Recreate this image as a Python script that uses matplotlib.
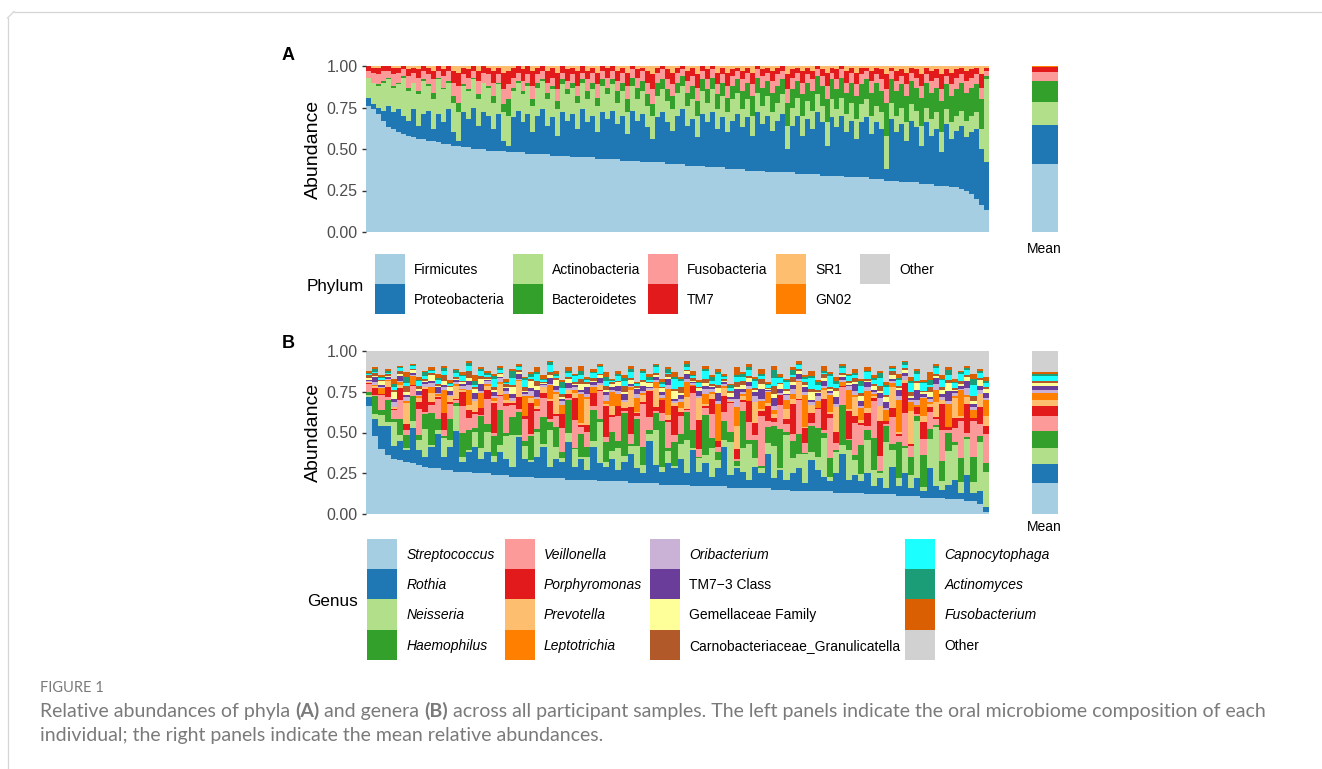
import numpy as np
import matplotlib
matplotlib.use('Agg')
import matplotlib.pyplot as plt
from matplotlib.patches import Rectangle

plt.rcParams['font.family'] = ['Liberation Sans', 'DejaVu Sans']

W, H = 1322, 769

# --- panel A: upper edge of each phylum in the stack, in percent, one value per sample ---
firmicutes_top = [
    76, 74, 71, 67, 63, 62, 60, 59, 58, 57, 56, 56, 55, 55, 54, 53, 53, 52, 52, 51, 51, 50, 50, 50, 49,
    49, 49, 49, 48, 48, 48, 48, 47, 47, 47, 47, 47, 46, 46, 46, 46, 45, 45, 45, 45, 45, 44, 44, 44, 44,
    44, 43, 43, 43, 43, 42, 42, 42, 42, 42, 41, 41, 41, 41, 40, 40, 40, 40, 39, 39, 39, 39, 38, 38, 38,
    38, 37, 37, 37, 37, 36, 36, 36, 36, 36, 36, 35, 35, 35, 35, 35, 34, 34, 34, 34, 34, 33, 33, 33, 33,
    33, 32, 32, 32, 31, 31, 31, 30, 30, 30, 30, 29, 29, 29, 28, 28, 28, 27, 27, 26, 25, 23, 20, 16, 13]
proteobacteria_top = [
    81, 77, 75, 73, 76, 72, 74, 70, 67, 74, 64, 71, 73, 62, 71, 66, 74, 60, 55, 72, 68, 75, 64, 72, 70,
    62, 71, 55, 52, 69, 73, 66, 71, 60, 70, 74, 64, 69, 58, 72, 67, 71, 62, 74, 66, 70, 60, 72, 68, 73,
    65, 70, 59, 73, 67, 71, 63, 56, 69, 72, 66, 61, 70, 74, 64, 68, 57, 71, 66, 72, 62, 69, 60, 67, 71,
    63, 69, 58, 72, 65, 70, 61, 67, 71, 50, 64, 70, 58, 68, 62, 72, 66, 52, 69, 63, 70, 60, 67, 56, 66,
    69, 59, 66, 62, 38, 68, 60, 65, 55, 67, 63, 52, 66, 58, 62, 48, 65, 56, 61, 64, 57, 60, 62, 50, 42]
actinobacteria_top = [
    93, 90, 88, 90, 92, 87, 89, 93, 85, 90, 83, 91, 88, 80, 92, 86, 90, 78, 72, 88, 85, 92, 80, 90, 87,
    78, 89, 72, 70, 85, 90, 83, 88, 76, 87, 91, 80, 86, 74, 89, 83, 87, 78, 90, 80, 86, 76, 88, 83, 89,
    78, 85, 72, 88, 80, 85, 76, 70, 82, 86, 79, 74, 84, 88, 76, 80, 70, 85, 78, 86, 74, 82, 72, 80, 84,
    74, 80, 70, 84, 76, 82, 72, 78, 83, 64, 75, 81, 70, 79, 73, 83, 76, 66, 80, 74, 81, 71, 78, 68, 77,
    80, 70, 76, 72, 58, 78, 70, 75, 66, 77, 73, 64, 75, 68, 72, 60, 74, 66, 70, 73, 67, 70, 72, 62, 92]
bacteroidetes_top = [
    92, 90, 89, 91, 93, 88, 90, 94, 87, 90, 85, 92, 89, 84, 93, 87, 91, 82, 78, 89, 86, 93, 83, 90, 88,
    82, 90, 77, 80, 87, 91, 85, 90, 80, 90, 92, 84, 88, 79, 92, 86, 90, 82, 92, 85, 90, 81, 92, 87, 92,
    85, 90, 80, 93, 87, 91, 83, 77, 90, 92, 86, 82, 90, 94, 84, 88, 79, 92, 86, 93, 83, 90, 81, 88, 92,
    85, 90, 82, 93, 87, 91, 84, 88, 92, 78, 86, 91, 83, 90, 85, 94, 88, 80, 92, 86, 93, 84, 90, 82, 89,
    92, 84, 90, 85, 78, 92, 85, 89, 82, 91, 87, 81, 90, 84, 87, 79, 89, 82, 86, 90, 84, 87, 89, 80, 94]
fusobacteria_top = [
    97, 96, 95, 97, 97, 95, 96, 98, 94, 96, 93, 97, 95, 92, 97, 94, 97, 90, 88, 95, 93, 97, 91, 96, 95,
    90, 95, 86, 89, 93, 96, 91, 95, 88, 95, 97, 90, 93, 86, 96, 91, 95, 88, 96, 92, 96, 89, 97, 93, 97,
    91, 96, 88, 98, 93, 97, 90, 86, 96, 98, 92, 89, 96, 98, 91, 94, 87, 97, 92, 98, 89, 95, 88, 94, 97,
    92, 96, 89, 98, 94, 96, 91, 95, 97, 86, 93, 96, 90, 95, 92, 98, 94, 88, 96, 92, 98, 90, 96, 89, 95,
    97, 91, 95, 92, 86, 97, 91, 94, 89, 96, 93, 88, 95, 91, 93, 86, 94, 89, 93, 95, 91, 93, 95, 87, 97]
tm7_top = [
    100, 99, 99, 100, 100, 99, 99, 100, 98, 99, 98, 100, 99, 97, 100, 98, 100, 97, 96, 99, 98, 100, 97, 100, 99,
    97, 99, 96, 97, 99, 100, 98, 100, 97, 99, 100, 97, 99, 96, 100, 98, 99, 97, 100, 97, 99, 96, 100, 99, 100,
    97, 99, 96, 100, 98, 99, 97, 95, 99, 100, 98, 96, 99, 100, 97, 99, 95, 100, 98, 100, 96, 99, 96, 98, 99,
    97, 99, 96, 100, 98, 99, 97, 99, 100, 95, 98, 99, 97, 99, 97, 100, 98, 96, 99, 98, 100, 97, 99, 96, 99,
    99, 97, 99, 98, 95, 99, 97, 98, 96, 99, 98, 95, 99, 97, 98, 95, 98, 96, 98, 99, 97, 98, 99, 95, 99]

phylum_names = ['Firmicutes', 'Proteobacteria', 'Actinobacteria', 'Bacteroidetes', 'Fusobacteria', 'TM7', 'SR1', 'GN02', 'Other']
phylum_colors = ['#A6CEE3', '#1F78B4', '#B2DF8A', '#33A02C', '#FB9A99', '#E31A1C', '#FDBF6F', '#FF7F00', '#D1D1D1']
phylum_mean = [41.1, 23.4, 14.1, 12.5, 5.3, 2.8, 0.3, 0.2, 0.3]

# --- panel B: abundance of each genus in percent, one value per sample ---
streptococcus = [
    66, 48, 40, 36, 34, 33, 32, 31, 30, 29, 28, 28, 27, 27, 26, 26, 26, 25, 25, 25,
    24, 24, 24, 23, 23, 23, 23, 22, 22, 22, 22, 22, 21, 21, 21, 21, 21, 20, 20, 20,
    20, 20, 19, 19, 19, 19, 19, 18, 18, 18, 18, 18, 17, 17, 17, 17, 17, 17, 16, 16,
    16, 16, 16, 16, 16, 15, 15, 15, 14, 14, 14, 14, 14, 14, 14, 13, 13, 13, 13, 13,
    12, 12, 12, 12, 12, 11, 11, 11, 11, 10, 10, 10, 10, 9, 9, 9, 8, 8, 6, 1]
rothia = [
    6, 10, 14, 18, 8, 12, 7, 22, 9, 6, 13, 21, 8, 14, 25, 6, 12, 16, 9, 13,
    8, 14, 10, 6, 24, 11, 9, 13, 19, 7, 12, 10, 23, 8, 13, 6, 20, 11, 9, 14,
    7, 12, 18, 9, 6, 26, 11, 8, 13, 10, 16, 7, 22, 9, 14, 6, 11, 24, 8, 12,
    10, 5, 13, 9, 21, 7, 12, 6, 11, 14, 5, 19, 13, 9, 6, 12, 24, 8, 11, 7,
    13, 5, 10, 4, 17, 6, 14, 5, 11, 4, 18, 7, 5, 9, 12, 4, 16, 5, 8, 3]
neisseria = [
    2, 4, 9, 3, 14, 5, 1, 6, 8, 17, 2, 3, 10, 5, 22, 4, 1, 8, 6, 15,
    3, 5, 20, 14, 2, 9, 1, 11, 3, 24, 6, 2, 5, 16, 1, 8, 4, 26, 2, 6,
    13, 2, 5, 19, 4, 6, 28, 3, 9, 1, 7, 22, 2, 11, 5, 17, 3, 6, 25, 1,
    11, 26, 4, 2, 14, 8, 1, 30, 6, 10, 18, 3, 8, 22, 2, 12, 5, 24, 7, 3,
    20, 8, 2, 28, 9, 4, 17, 6, 24, 3, 12, 30, 5, 13, 22, 7, 16, 4, 26, 18]
haemophilus = [
    3, 12, 5, 18, 2, 14, 6, 22, 4, 9, 24, 7, 1, 16, 3, 20, 8, 2, 19, 6,
    11, 25, 2, 8, 20, 4, 14, 1, 26, 5, 10, 3, 17, 1, 12, 6, 21, 2, 9, 15,
    4, 16, 1, 22, 8, 3, 13, 28, 2, 10, 5, 19, 12, 1, 24, 6, 3, 15, 8, 2,
    17, 3, 9, 1, 20, 5, 26, 2, 7, 14, 1, 10, 18, 3, 9, 1, 22, 8, 2, 12,
    6, 15, 1, 10, 3, 18, 1, 9, 2, 21, 4, 1, 12, 7, 2, 16, 1, 9, 3, 5]
veillonella = [
    8, 1, 12, 3, 5, 16, 2, 9, 20, 1, 6, 14, 3, 11, 2, 22, 5, 7, 1, 18,
    2, 10, 24, 5, 3, 16, 1, 8, 19, 2, 6, 13, 1, 25, 4, 9, 3, 17, 2, 12,
    15, 1, 7, 3, 20, 11, 2, 5, 18, 3, 9, 1, 26, 6, 4, 14, 2, 8, 22, 1,
    4, 13, 2, 20, 7, 1, 16, 5, 3, 24, 6, 1, 12, 2, 19, 4, 10, 1, 15, 8,
    2, 18, 6, 1, 14, 3, 22, 5, 1, 11, 7, 3, 19, 1, 9, 24, 2, 13, 6, 15]
porphyromonas = [
    1, 5, 1, 8, 1, 11, 3, 1, 6, 14, 2, 1, 9, 2, 1, 12, 3, 1, 4, 7,
    16, 1, 3, 1, 10, 2, 18, 1, 5, 12, 1, 7, 2, 20, 1, 4, 9, 1, 14, 2,
    6, 1, 17, 2, 1, 22, 3, 8, 1, 12, 2, 1, 5, 24, 1, 9, 2, 13, 1, 4,
    1, 15, 6, 2, 19, 1, 7, 3, 12, 1, 9, 4, 1, 18, 2, 6, 1, 22, 3, 1,
    8, 1, 14, 2, 5, 1, 20, 1, 3, 11, 2, 1, 16, 1, 6, 2, 13, 1, 9, 4]
prevotella = [
    1, 1, 0, 5, 1, 2, 9, 0, 3, 1, 7, 1, 0, 4, 12, 1, 2, 6, 0, 3,
    1, 8, 2, 1, 14, 0, 3, 1, 6, 1, 10, 0, 2, 5, 1, 16, 0, 3, 1, 7,
    0, 2, 11, 1, 3, 1, 15, 0, 4, 1, 2, 8, 0, 18, 1, 3, 0, 6, 1, 9,
    2, 0, 10, 1, 4, 1, 0, 7, 2, 12, 1, 3, 0, 5, 1, 14, 0, 2, 9, 1,
    3, 1, 6, 0, 11, 1, 2, 16, 0, 4, 1, 8, 2, 0, 13, 1, 3, 0, 7, 5]
leptotrichia = [
    0, 1, 5, 1, 0, 3, 1, 8, 1, 0, 4, 1, 12, 0, 2, 1, 6, 0, 9, 1,
    2, 1, 6, 0, 1, 14, 1, 3, 0, 9, 1, 5, 0, 2, 16, 1, 4, 0, 1, 11,
    7, 0, 2, 12, 1, 0, 5, 1, 18, 0, 3, 10, 1, 0, 6, 1, 14, 2, 0, 8,
    1, 9, 0, 3, 13, 1, 0, 6, 2, 1, 20, 0, 4, 1, 8, 0, 2, 15, 1, 5,
    10, 1, 0, 7, 2, 16, 0, 4, 1, 12, 1, 6, 0, 9, 1, 17, 1, 3, 0, 8]
oribacterium = [
    1, 2, 1, 1, 3, 1, 2, 1, 1, 2, 3, 1, 2, 1, 1, 3, 2, 1, 1, 2,
    1, 3, 2, 1, 1, 2, 3, 1, 2, 1, 1, 2, 1, 3, 1, 2, 1, 1, 3, 2,
    2, 1, 1, 3, 1, 2, 1, 2, 3, 1, 1, 2, 1, 1, 3, 2, 1, 2, 1, 3,
    1, 2, 3, 1, 2, 1, 1, 3, 2, 1, 2, 1, 3, 1, 1, 2, 1, 3, 2, 1,
    2, 1, 3, 1, 1, 2, 3, 1, 2, 1, 1, 3, 2, 1, 2, 1, 3, 1, 2, 1]
tm7_3 = [
    1, 3, 2, 1, 2, 4, 1, 2, 3, 1, 2, 4, 1, 3, 2, 1, 2, 3, 4, 1,
    2, 1, 3, 2, 4, 1, 2, 3, 1, 4, 2, 1, 3, 2, 1, 4, 2, 3, 1, 2,
    3, 2, 1, 4, 2, 1, 3, 2, 4, 1, 2, 3, 1, 4, 2, 1, 3, 1, 2, 4,
    1, 3, 2, 4, 1, 2, 3, 1, 2, 4, 3, 1, 2, 3, 1, 4, 2, 1, 3, 2,
    3, 1, 2, 4, 1, 3, 2, 1, 4, 2, 1, 3, 2, 4, 1, 2, 3, 1, 2, 3]
gemellaceae = [
    2, 1, 3, 1, 4, 2, 1, 3, 2, 1, 4, 1, 2, 3, 1, 2, 1, 2, 3, 1,
    1, 2, 1, 3, 2, 1, 4, 2, 1, 2, 3, 1, 2, 1, 3, 2, 1, 2, 1, 3,
    2, 1, 3, 1, 2, 3, 1, 2, 1, 3, 1, 2, 1, 3, 2, 1, 2, 1, 3, 1,
    2, 3, 1, 2, 1, 1, 3, 2, 1, 2, 1, 3, 1, 2, 1, 3, 1, 2, 1, 2,
    1, 2, 1, 3, 2, 1, 2, 1, 3, 1, 2, 1, 2, 3, 1, 1, 2, 1, 3, 2]
carnobacteriaceae = [
    3, 2, 1, 2, 1, 2, 3, 1, 2, 1, 2, 1, 3, 1, 2, 1, 3, 1, 2, 1,
    2, 1, 2, 1, 2, 3, 1, 2, 1, 2, 1, 2, 1, 2, 3, 1, 2, 1, 2, 1,
    1, 2, 1, 2, 1, 1, 2, 1, 2, 1, 3, 1, 2, 1, 2, 1, 1, 2, 1, 2,
    2, 1, 1, 2, 1, 2, 1, 1, 2, 1, 2, 1, 1, 2, 1, 2, 1, 1, 2, 1,
    1, 1, 2, 1, 2, 1, 1, 2, 1, 1, 2, 1, 2, 1, 1, 2, 1, 2, 1, 1]
capnocytophaga = [
    1, 1, 2, 1, 2, 3, 1, 2, 4, 2, 1, 3, 2, 1, 3, 4, 2, 1, 3, 2,
    4, 2, 1, 3, 2, 5, 1, 3, 2, 4, 1, 3, 2, 5, 2, 1, 3, 4, 2, 1,
    3, 2, 4, 1, 3, 2, 5, 2, 1, 4, 3, 2, 1, 3, 5, 2, 4, 1, 3, 2,
    2, 5, 3, 1, 4, 2, 3, 5, 1, 3, 2, 4, 3, 1, 5, 2, 3, 4, 1, 3,
    4, 2, 3, 5, 1, 3, 2, 4, 3, 5, 1, 3, 4, 2, 3, 5, 2, 4, 3, 2]
actinomyces = [
    1, 2, 1, 1, 2, 1, 3, 1, 1, 2, 1, 1, 2, 1, 3, 1, 1, 2, 1, 1,
    2, 1, 1, 3, 1, 1, 2, 1, 1, 2, 1, 3, 1, 1, 2, 1, 1, 1, 2, 1,
    1, 1, 2, 1, 1, 2, 1, 1, 3, 1, 1, 2, 1, 1, 1, 2, 1, 1, 2, 1,
    1, 2, 1, 1, 1, 2, 1, 1, 2, 1, 1, 1, 2, 1, 1, 2, 1, 1, 1, 2,
    1, 1, 2, 1, 1, 1, 2, 1, 1, 1, 2, 1, 1, 2, 1, 1, 1, 2, 1, 1]
fusobacterium = [
    2, 1, 1, 2, 3, 1, 2, 1, 2, 1, 2, 3, 1, 2, 1, 2, 1, 3, 1, 2,
    1, 2, 3, 1, 2, 1, 1, 2, 3, 1, 2, 1, 2, 1, 3, 1, 2, 1, 2, 1,
    2, 1, 2, 1, 1, 3, 1, 2, 1, 2, 1, 2, 3, 1, 2, 1, 1, 2, 1, 3,
    1, 2, 1, 2, 3, 1, 2, 1, 1, 2, 1, 2, 1, 3, 1, 2, 1, 1, 2, 1,
    2, 1, 1, 2, 1, 2, 1, 2, 1, 1, 3, 1, 2, 1, 2, 1, 1, 2, 1, 2]
genus_other = [
    12, 10, 15, 11, 17, 9, 13, 8, 16, 12, 10, 14, 9, 18, 11, 13, 6, 15, 10, 12,
    14, 9, 17, 11, 8, 16, 13, 10, 15, 6, 12, 18, 10, 14, 9, 16, 11, 8, 13, 17,
    12, 15, 9, 19, 11, 14, 8, 17, 10, 13, 16, 6, 12, 18, 9, 15, 11, 14, 20, 10,
    13, 8, 16, 11, 19, 9, 14, 17, 10, 6, 15, 12, 18, 9, 13, 16, 8, 14, 11, 17,
    10, 15, 12, 19, 9, 14, 6, 16, 11, 18, 13, 8, 15, 10, 17, 12, 9, 14, 11, 16]

genus_names = ['Streptococcus', 'Rothia', 'Neisseria', 'Haemophilus',
               'Veillonella', 'Porphyromonas', 'Prevotella', 'Leptotrichia',
               'Oribacterium', 'TM7\u22123 Class', 'Gemellaceae Family', 'Carnobacteriaceae_Granulicatella',
               'Capnocytophaga', 'Actinomyces', 'Fusobacterium', 'Other']
genus_colors = ['#A6CEE3', '#1F78B4', '#B2DF8A', '#33A02C',
                '#FB9A99', '#E31A1C', '#FDBF6F', '#FF7F00',
                '#CAB2D6', '#6A3D9A', '#FFFF99', '#B15928',
                '#1CFFFF', '#1B9E77', '#D95F02', '#D1D1D1']
genus_mean = [19, 11.4, 10.2, 10.2, 9.2, 6, 4, 4.3, 2, 2.3, 2, 1.2, 2.9, 1, 1.4, 12.8]
genus_plain = ['TM7\u22123 Class', 'Gemellaceae Family', 'Carnobacteriaceae_Granulicatella', 'Other']

TICK_VALUES = [0, 0.25, 0.5, 0.75, 1.0]
TICK_LABELS = ['0.00', '0.25', '0.50', '0.75', '1.00']


def px_axes(fig, left, top, right, bottom):
    # posiciona um eixo usando pixels da imagem
    return fig.add_axes([left / W, 1 - bottom / H, (right - left) / W, (bottom - top) / H])


def put_text(fig, x, y, s, **kw):
    kw.setdefault('va', 'center')
    return fig.text(x / W, 1 - y / H, s, **kw)


def swatch(fig, x, y, size, color):
    fig.add_artist(Rectangle((x / W, 1 - (y + size) / H), size / W, size / H,
                             transform=fig.transFigure, facecolor=color, edgecolor='none'))


def style_left(ax):
    ax.set_ylim(0, 1)
    ax.set_xticks([])
    ax.set_yticks(TICK_VALUES)
    ax.set_yticklabels(TICK_LABELS, fontsize=11.5, color='#4D4D4D')
    ax.tick_params(axis='y', length=3, width=1, color='#333333', pad=3)
    for s in ax.spines.values():
        s.set_visible(False)


def draw_stack(ax, tops, colors):
    # desenha de cima para baixo, cada barra sai do zero, assim nao sobra fresta entre camadas
    x = np.arange(len(tops[0]))
    for t, c in reversed(list(zip(tops, colors))):
        ax.bar(x, t, width=1.0, color=c, linewidth=0, antialiased=False)
    ax.set_xlim(-0.5, len(x) - 0.5)


def draw_mean(fig, box, values, colors):
    ax = px_axes(fig, *box)
    bottom = 0.0
    for v, c in zip(values, colors):
        ax.bar(0, v / 100, bottom=bottom, width=1.0, color=c, linewidth=0)
        bottom += v / 100
    ax.set_xlim(-0.5, 0.5)
    ax.set_ylim(0, 1)
    ax.axis('off')
    return ax


fig = plt.figure(figsize=(W / 100, H / 100), dpi=100, facecolor='white')

# moldura do cartao
fig.add_artist(plt.Line2D([7.5 / W, 7.5 / W], [0, 1 - 18 / H], color='#D6D6D6', lw=0.9))
fig.add_artist(plt.Line2D([14 / W, 1], [1 - 11.5 / H, 1 - 11.5 / H], color='#D6D6D6', lw=0.9))
fig.add_artist(plt.Line2D([7.5 / W, 14 / W], [1 - 18 / H, 1 - 11.5 / H], color='#D6D6D6', lw=0.9))

# --- Painel A ---
ax_a = px_axes(fig, 366, 66, 989, 232)
phylum_tops = [np.array(v) / 100 for v in (firmicutes_top, proteobacteria_top, actinobacteria_top,
                                           bacteroidetes_top, fusobacteria_top, tm7_top)]
phylum_tops.append(np.ones(len(firmicutes_top)))
draw_stack(ax_a, phylum_tops, phylum_colors[:7])
style_left(ax_a)
ax_a.set_ylabel('Abundance', fontsize=14, labelpad=3)
draw_mean(fig, (1032, 66, 1058, 232), phylum_mean, phylum_colors)
put_text(fig, 1044.5, 249, 'Mean', fontsize=10, ha='center')
put_text(fig, 282, 55, 'A', fontsize=13, fontweight='bold')

# legenda de filos
phylum_slots = [(375, 254, 414), (375, 284, 414), (513, 254, 552), (513, 284, 552),
                (648, 254, 687), (648, 284, 687), (776, 254, 815), (776, 284, 815), (860, 254, 899)]
for name, col, (sx, sy, tx) in zip(phylum_names, phylum_colors, phylum_slots):
    swatch(fig, sx, sy, 30, col)
    put_text(fig, tx, sy + 16, name, fontsize=10)
put_text(fig, 307, 286, 'Phylum', fontsize=12.3)

# --- Painel B ---
ax_b = px_axes(fig, 366, 351, 989, 514)
genus_values = np.array([streptococcus, rothia, neisseria, haemophilus, veillonella, porphyromonas,
                         prevotella, leptotrichia, oribacterium, tm7_3, gemellaceae, carnobacteriaceae,
                         capnocytophaga, actinomyces, fusobacterium], dtype=float)
# abundancia relativa: as camadas de cima dividem o que sobra depois de Other e dos dois primeiros
room = 100 - np.array(genus_other) - genus_values[0] - genus_values[1]
genus_values[2:] *= room / genus_values[2:].sum(axis=0)
tops_b = list(np.cumsum(genus_values, axis=0) / 100) + [np.ones(genus_values.shape[1])]
draw_stack(ax_b, tops_b, genus_colors)
style_left(ax_b)
ax_b.set_ylabel('Abundance', fontsize=14, labelpad=3)
draw_mean(fig, (1032, 351, 1058, 514), genus_mean, genus_colors)
put_text(fig, 1044.5, 527, 'Mean', fontsize=10, ha='center')
put_text(fig, 282, 344, 'B', fontsize=13, fontweight='bold')

# legenda de generos
col_x = [(367, 407), (505, 544), (650, 689), (905, 944.5)]
for k, (name, col) in enumerate(zip(genus_names, genus_colors)):
    sx, tx = col_x[k // 4]
    sy = 539 + 30.2 * (k % 4)
    swatch(fig, sx, sy, 30.2, col)
    put_text(fig, tx, sy + 16, name, fontsize=10,
             style='normal' if name in genus_plain else 'italic')
put_text(fig, 307, 601, 'Genus', fontsize=12.3)

# --- Legenda da figura ---
CAPTION = '#7A7A7A'
put_text(fig, 40, 688, 'FIGURE 1', fontsize=10.5, color=CAPTION, family=['Lato', 'DejaVu Sans'])

line1 = [('Relative abundances of phyla ', 'normal'), ('(A)', 'bold'), (' and genera ', 'normal'),
         ('(B)', 'bold'), (' across all participant samples. The left panels indicate the oral '
                           'microbiome composition of each', 'normal')]
fig.canvas.draw()
renderer = fig.canvas.get_renderer()
x_cur = 40.0
for s, w in line1:
    t = put_text(fig, x_cur, 711, s, fontsize=14, color=CAPTION, fontweight=w,
                 family=['Lato', 'DejaVu Sans'])
    # largura com espacos incluidos
    t.set_text(s.replace(' ', '\u00a0'))
    x_cur += t.get_window_extent(renderer).width
put_text(fig, 40, 735, 'individual; the right panels indicate the mean relative abundances.',
         fontsize=14, color=CAPTION, family=['Lato', 'DejaVu Sans'])

fig.savefig('out.png', dpi=100)
